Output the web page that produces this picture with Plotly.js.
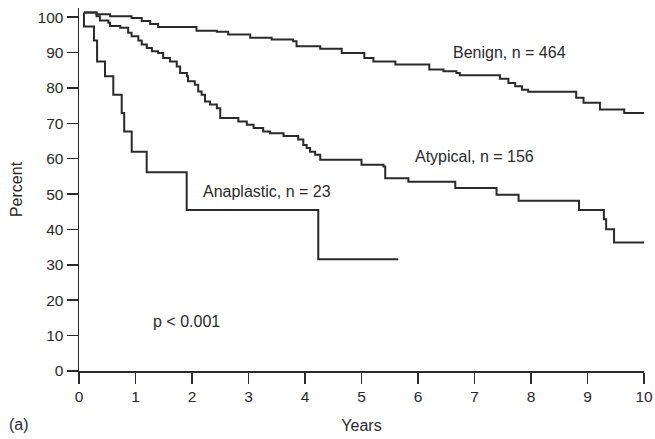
<!DOCTYPE html>
<html>
<head>
<meta charset="utf-8">
<script src="https://cdn.plot.ly/plotly-3.0.1.min.js"></script>
<style>html,body{margin:0;padding:0;background:#fff;}#chart{width:655px;height:439px;}</style>
</head>
<body>
<div id="chart"></div>
<script>
// Kaplan-Meier step curves: x = years at which the level starts, y = percent
const benignYears = [0.088, 0.31, 0.55, 0.93, 1.11, 1.26, 1.40, 2.08, 2.44, 2.64, 3.03, 3.41, 3.79, 3.85, 4.27, 4.65, 5.05, 5.21, 5.60, 6.20, 6.45, 6.68, 6.74, 7.45, 7.60, 7.72, 7.84, 7.95, 8.80, 8.93, 9.22, 9.65, 10.0];
const benignPct   = [101.3, 100.8, 100.3, 99.8, 98.9, 98.1, 97.2, 96.2, 95.9, 95.1, 94.2, 93.7, 93.2, 91.8, 91.1, 89.9, 88.5, 87.5, 86.6, 85.2, 84.7, 84.2, 83.6, 82.6, 81.4, 80.5, 79.5, 78.9, 77.2, 75.8, 73.9, 72.9, 72.9];

const atypicalYears = [0.088, 0.31, 0.37, 0.52, 0.55, 0.73, 0.87, 0.93, 1.05, 1.11, 1.20, 1.29, 1.40, 1.49, 1.61, 1.73, 1.79, 1.91, 1.93, 2.05, 2.11, 2.17, 2.23, 2.32, 2.44, 2.50, 2.82, 2.97, 3.09, 3.26, 3.38, 3.62, 3.88, 3.97, 4.03, 4.09, 4.18, 4.27, 5.00, 5.39, 5.42, 5.83, 6.66, 7.39, 7.78, 8.85, 9.29, 9.33, 9.47, 10.0];
const atypicalPct   = [101.3, 100.3, 99.1, 98.4, 97.5, 97.0, 95.6, 94.6, 93.4, 92.3, 91.3, 90.4, 89.9, 88.5, 87.5, 86.1, 84.2, 83.3, 81.9, 80.9, 79.0, 78.1, 76.2, 75.3, 74.3, 71.5, 70.5, 69.6, 68.7, 67.7, 67.2, 66.4, 65.4, 63.9, 63.0, 62.0, 61.1, 59.7, 58.3, 57.8, 54.5, 53.5, 51.7, 49.8, 48.1, 45.5, 42.9, 40.1, 36.3, 36.3];

const anaplasticYears = [0.088, 0.088, 0.265, 0.32, 0.46, 0.607, 0.756, 0.80, 0.933, 1.198, 1.906, 4.235, 5.65];
const anaplasticPct   = [101.3, 97.4, 93.4, 87.5, 83.3, 78.1, 72.9, 67.7, 62.0, 56.2, 45.5, 31.6, 31.6];

const xTicks = [0,1,2,3,4,5,6,7,8,9,10];
const yTicks = [0,10,20,30,40,50,60,70,80,90,100];

const curveLabels = ["Benign, n = 464", "Atypical, n = 156", "Anaplastic, n = 23"];
const pLabel = "p < 0.001";
const panelLabel = "(a)";

const ink = "#2a2a2a";
const font = "'Liberation Sans', Arial, Helvetica, sans-serif";

function curve(x, y, name) {
  return {x: x, y: y, name: name, type: "scatter", mode: "lines",
          line: {shape: "hv", color: ink, width: 2}, hoverinfo: "skip"};
}

const data = [
  curve(benignYears, benignPct, curveLabels[0]),
  curve(atypicalYears, atypicalPct, curveLabels[1]),
  curve(anaplasticYears, anaplasticPct, curveLabels[2])
];

const annFont = {family: font, size: 16, color: ink};
const tickFont = {family: font, size: 15.5, color: ink};
const layout = {
  width: 655, height: 439,
  margin: {l: 79, r: 11, t: 8, b: 68, pad: 0},
  paper_bgcolor: "#fff", plot_bgcolor: "#fff",
  showlegend: false,
  font: {family: font, size: 15, color: ink},
  xaxis: {
    range: [0, 10], tickvals: xTicks, ticktext: xTicks.map(String),
    showgrid: false, zeroline: false, showline: true, linecolor: ink, linewidth: 1.5,
    ticks: "outside", ticklen: 11, tickwidth: 1.5, tickcolor: ink,
    tickfont: tickFont,
    title: {text: "Years", font: {family: font, size: 16, color: ink}, standoff: 15}
  },
  yaxis: {
    range: [0, 102.6], tickvals: yTicks, ticktext: yTicks.map(String),
    showgrid: false, zeroline: false, showline: true, linecolor: ink, linewidth: 1.5,
    ticks: "outside", ticklen: 11, tickwidth: 1.5, tickcolor: ink,
    tickfont: tickFont,
    title: {text: "Percent", font: {family: font, size: 16, color: ink}, standoff: 11}
  },
  annotations: [
    {x: 6.58, y: 89.9, xref: "x", yref: "y", text: curveLabels[0], showarrow: false, xanchor: "left", yanchor: "middle", font: annFont},
    {x: 5.91, y: 60.6, xref: "x", yref: "y", text: curveLabels[1], showarrow: false, xanchor: "left", yanchor: "middle", font: annFont},
    {x: 2.16, y: 50.7, xref: "x", yref: "y", text: curveLabels[2], showarrow: false, xanchor: "left", yanchor: "middle", font: annFont},
    {x: 1.27, y: 14.0, xref: "x", yref: "y", text: pLabel, showarrow: false, xanchor: "left", yanchor: "middle", font: annFont},
    {x: (7 - 79) / 565, y: -(424 - 371) / 363, xref: "paper", yref: "paper", xanchor: "left", yanchor: "middle", text: panelLabel, showarrow: false, font: annFont}
  ]
};

Plotly.newPlot("chart", data, layout, {staticPlot: true, displayModeBar: false});
</script>
</body>
</html>
